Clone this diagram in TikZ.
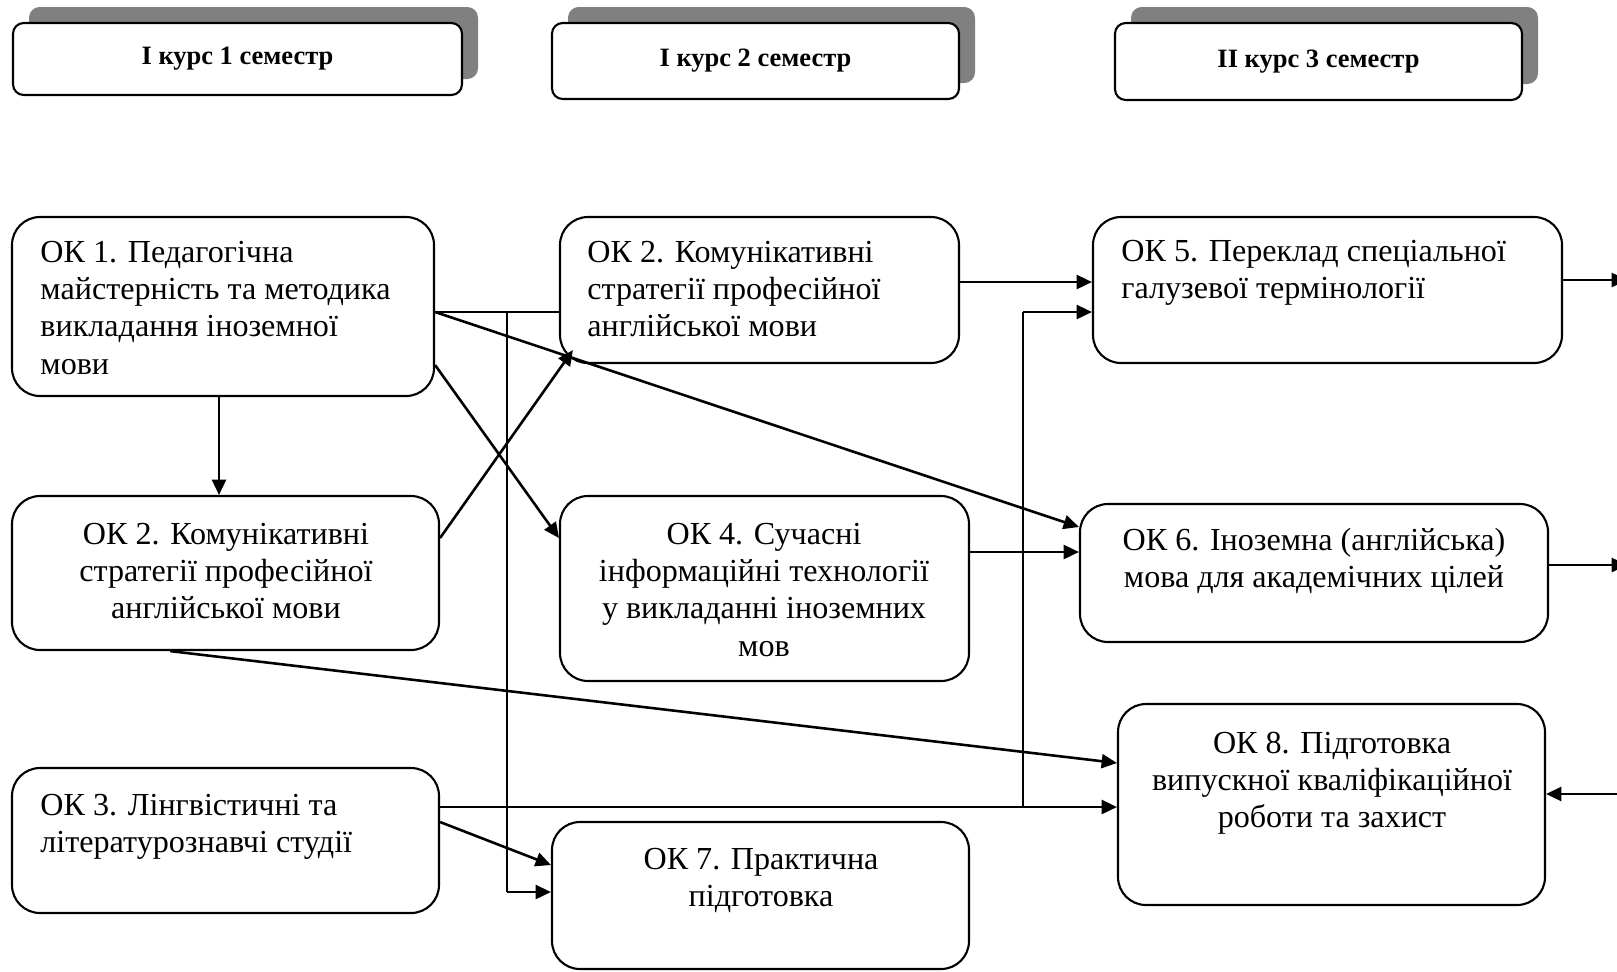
\documentclass[tikz,border=0pt]{standalone}
\usepackage{fontspec}
\setmainfont{Liberation Serif}
\usetikzlibrary{arrows.meta,fit,shadows}

\begin{document}
\begin{tikzpicture}[x=0.015cm,y=-0.015cm,>={Triangle[length=2.3mm,width=2.1mm]},
	box/.style={draw,line width=0.9pt,rounded corners=0.42cm,inner sep=0pt},
	sem/.style={draw,line width=0.9pt,rounded corners=0.16cm,inner sep=0pt,fill=white,
		general shadow={fill=black!50,shadow xshift=0.24cm,shadow yshift=0.24cm}},
	semtext/.style={font=\fontsize{11.3}{13}\selectfont\bfseries,inner sep=0pt},
	txt/.style={font=\fontsize{13.7}{15.8}\selectfont,inner sep=0pt},
	lft/.style={txt,anchor=west,align=left},
	ctr/.style={txt,align=center},
	link/.style={->,line width=1.1pt},
	guide/.style={line width=0.5pt}]
	\useasboundingbox (0,0) rectangle (1617,971);
	% semesters
	\node[sem,fit={(13,23) (462,95)}] (sem1) {};
	\node[sem,fit={(552,23) (959,99)}] (sem2) {};
	\node[sem,fit={(1115,23) (1522,100)}] (sem3) {};
	\node[semtext] (sem1t) at (sem1.center) {І курс 1 семестр};
	\node[semtext] (sem2t) at (sem2.center) {І курс 2 семестр};
	\node[semtext] (sem3t) at (sem3.center) {ІІ курс 3 семестр};
	% course boxes
	\node[box,fit={(12,217) (434,396)}] (ok1) {};
	\node[box,fit={(560,217) (959,363)}] (ok2a) {};
	\node[box,fit={(1093,217) (1562,363)}] (ok5) {};
	\node[box,fit={(12,496) (439,650)}] (ok2b) {};
	\node[box,fit={(560,496) (969,681)}] (ok4) {};
	\node[box,fit={(1080,504) (1548,642)}] (ok6) {};
	\node[box,fit={(1118,704) (1545,905)}] (ok8) {};
	\node[box,fit={(12,768) (439,913)}] (ok3) {};
	\node[box,fit={(552,822) (969,969)}] (ok7) {};
	\node[lft] (ok1t) at (40,308) {ОК 1. Педагогічна\\майстерність та методика\\викладання іноземної\\мови};
	\node[lft] (ok2at) at (587,289) {ОК 2. Комунікативні\\стратегії професійної\\англійської мови};
	\node[lft] (ok5t) at (1121,273) {ОК 5. Переклад спеціальної\\галузевої термінології};
	\node[ctr] (ok2bt) at (226,571) {ОК 2. Комунікативні\\стратегії професійної\\англійської мови};
	\node[ctr] (ok4t) at (764,590) {ОК 4. Сучасні\\інформаційні технології\\у викладанні іноземних\\мов};
	\node[ctr] (ok6t) at (1314,561) {ОК 6. Іноземна (англійська)\\мова для академічних цілей};
	\node[ctr] (ok8t) at (1332,783) {ОК 8. Підготовка\\випускної кваліфікаційної\\роботи та захист};
	\node[lft] (ok3t) at (40,827) {ОК 3. Лінгвістичні та\\літературознавчі студії};
	\node[ctr] (ok7t) at (761,880) {ОК 7. Практична\\підготовка};
	% free ends and bends
	\coordinate (branch1) at (507,312);
	\coordinate (ok7bend) at (507,892);
	\coordinate (branch2) at (1023,807);
	\coordinate (ok5bend) at (1023,312);
	\coordinate (out5) at (1627,280);
	\coordinate (out6) at (1627,565);
	\coordinate (in8) at (1627,794);
	% links
	\draw[link] (ok1.south -| 219,0) -- (ok2b.north -| 219,0);
	\draw[guide] (ok1.east |- branch1) -- (ok2a.west |- branch1);
	\draw[guide] (branch1) -- (ok7bend);
	\draw[link] (ok7bend) -- (ok7.west |- ok7bend);
	\draw[link] (ok1.east |- 0,312) -- (ok6.west |- 0,527);
	\draw[link] (ok1.east |- 0,365) -- (ok4.west |- 0,538);
	\draw[link] (ok2b.east |- 0,538) -- ([shift={(14,-14)}]ok2a.south west);
	\draw[link] (ok2a.east |- 0,282) -- (ok5.west |- 0,282);
	\draw[guide] (branch2) -- (ok5bend);
	\draw[link] (ok5bend) -- (ok5.west |- ok5bend);
	\draw[link] (ok4.east |- 0,552) -- (ok6.west |- 0,552);
	\draw[link] (ok5.east |- out5) -- (out5);
	\draw[link] (ok6.east |- out6) -- (out6);
	\draw[link] (in8) -- (ok8.east |- in8);
	\draw[link] (ok2b.south -| 170,0) -- (ok8.west |- 0,763);
	\draw[link] (ok3.east |- 0,807) -- (ok8.west |- 0,807);
	\draw[link] (ok3.east |- 0,822) -- (ok7.west |- 0,865);
\end{tikzpicture}
\end{document}
